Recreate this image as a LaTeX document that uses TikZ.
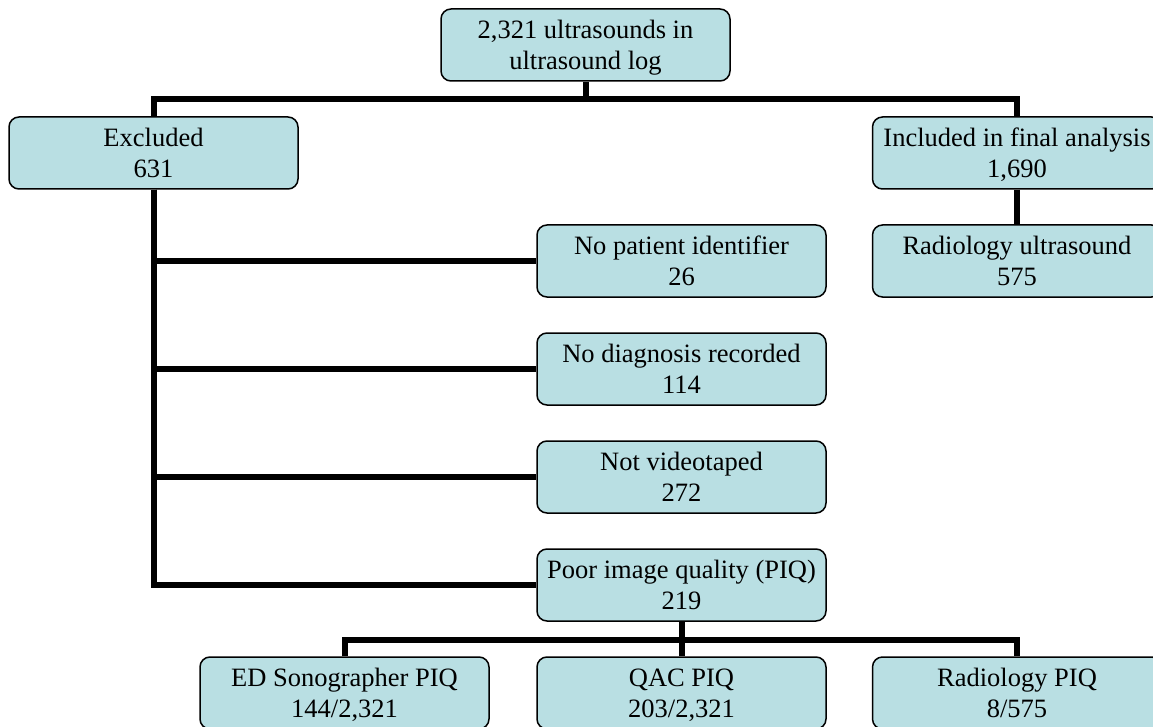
\documentclass[tikz,border=0pt]{standalone}
\usepackage{fontspec}
\setmainfont{Liberation Serif}
\definecolor{boxfill}{RGB}{185,223,227}
\newcommand\mystrut{\rule[-6.5pt]{0pt}{31pt}}
\tikzset{
  flowbox/.style={draw=black, line width=1.5pt, fill=boxfill, rounded corners=10pt,
    minimum width=289pt, minimum height=72pt, inner sep=0pt, align=center,
    font=\fontsize{26.5pt}{31pt}\selectfont},
  conn/.style={line width=6pt, line join=miter, line cap=butt}
}
\begin{document}
\begin{tikzpicture}[x=1pt,y=-1pt]
\clip (0,0) rectangle (1153,727);
\fill[white] (0,0) rectangle (1153,727);
\node[flowbox] (top) at (585.5,45) {\mystrut 2,321 ultrasounds in\\\mystrut ultrasound log};
\node[flowbox] (excl) at (153.5,153) {\mystrut Excluded\\\mystrut 631};
\node[flowbox] (incl) at (1017,153) {\mystrut Included in final analysis\\\mystrut 1,690};
\node[flowbox] (radus) at (1017,261) {\mystrut Radiology ultrasound\\\mystrut 575};
\node[flowbox] (nopat) at (681.5,261) {\mystrut No patient identifier\\\mystrut 26};
\node[flowbox] (nodiag) at (681.5,369) {\mystrut No diagnosis recorded\\\mystrut 114};
\node[flowbox] (notvid) at (681.5,477) {\mystrut Not videotaped\\\mystrut 272};
\node[flowbox] (piq) at (681.5,585) {\mystrut Poor image quality (PIQ)\\\mystrut 219};
\node[flowbox] (ed) at (344.5,693) {\mystrut ED Sonographer PIQ\\\mystrut 144/2,321};
\node[flowbox] (qac) at (681.5,693) {\mystrut QAC PIQ\\\mystrut 203/2,321};
\node[flowbox] (radpiq) at (1017,693) {\mystrut Radiology PIQ\\\mystrut 8/575};
\coordinate (split1) at (585.5,99.5);
\coordinate (split2) at (681.5,640);
% top split
\draw[conn] (top.south) -- (split1);
\draw[conn] (excl.north) |- (split1);
\draw[conn] (incl.north) |- (split1);
% included
\draw[conn] (incl.south) -- (radus.north);
% excluded branches
\draw[conn] (excl.south) |- (piq.west);
\draw[conn] (excl.south) |- (nopat.west);
\draw[conn] (excl.south) |- (nodiag.west);
\draw[conn] (excl.south) |- (notvid.west);
% PIQ split
\draw[conn] (piq.south) -- (qac.north);
\draw[conn] (ed.north) |- (split2);
\draw[conn] (radpiq.north) |- (split2);
\end{tikzpicture}
\end{document}
